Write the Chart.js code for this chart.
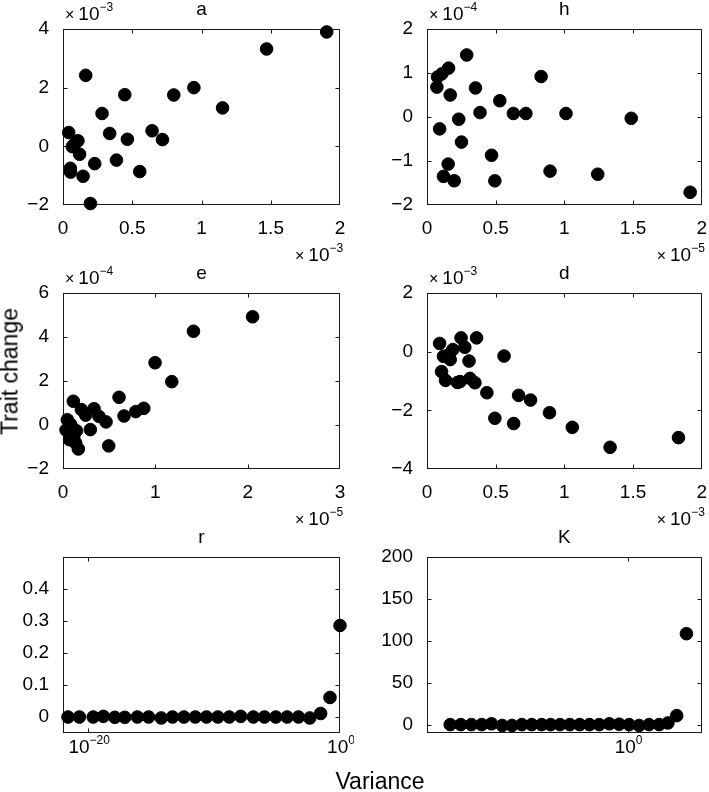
<!DOCTYPE html>
<html>
<head>
<meta charset="utf-8">
<script src="https://cdn.jsdelivr.net/npm/chart.js@4.4.1/dist/chart.umd.min.js"></script>
<style>
  html, body { margin: 0; padding: 0; background: #fff; }
  body { width: 709px; height: 792px; position: relative; overflow: hidden;
         font-family: "Liberation Sans", Arial, sans-serif; }
  canvas { position: absolute; }
  .lbl { position: absolute; font-size: 23px; line-height: 23px; color: #000;
         white-space: nowrap; text-align: center; width: 200px; height: 23px; }
</style>
</head>
<body>
<canvas id="pa" width="354" height="270" style="left:0;top:0"></canvas>
<canvas id="ph" width="355" height="270" style="left:354px;top:0"></canvas>
<canvas id="pe" width="354" height="280" style="left:0;top:250px"></canvas>
<canvas id="pd" width="355" height="280" style="left:354px;top:250px"></canvas>
<canvas id="pr" width="354" height="270" style="left:0;top:500px"></canvas>
<canvas id="pk" width="355" height="270" style="left:354px;top:500px"></canvas>
<div class="lbl" style="left:-90px;top:360px;transform:rotate(-90deg)">Trait change</div>
<div class="lbl" style="left:280px;top:770px">Variance</div>

<script>
// values (mantissas, multiplier shown on the axis)
const aX = [1.904, 1.47, 0.164, 0.945, 0.80, 0.446, 1.152, 0.282, 0.041, 0.337, 0.643, 0.718,
            0.465, 0.108, 0.067, 0.084, 0.12, 0.229, 0.386, 0.554, 0.053, 0.055, 0.145, 0.198]
const aY = [3.90, 3.32, 2.42, 2.00, 1.75, 1.76, 1.31, 1.12, 0.47, 0.44, 0.53, 0.23,
            0.24, 0.19, -0.01, 0.08, -0.27, -0.59, -0.47, -0.86, -0.75, -0.88, -1.02, -1.95]

const hX = [0.289, 0.157, 0.108, 0.077, 0.831, 0.072, 0.353, 0.169, 0.53, 0.386, 0.629, 0.72, 1.012,
            0.231, 1.487, 0.092, 0.251, 0.47, 0.154, 0.12, 0.198, 0.494, 0.896, 1.243, 1.916]
const hY = [1.41, 1.11, 0.98, 0.91, 0.92, 0.68, 0.66, 0.50, 0.37, 0.10, 0.08, 0.08, 0.08,
            -0.05, -0.03, -0.27, -0.57, -0.87, -1.07, -1.35, -1.45, -1.45, -1.23, -1.30, -1.71]

const eX = [2.053, 1.413, 0.997, 1.178, 0.607, 0.112, 0.199, 0.336, 0.246, 0.39, 0.875, 0.788, 0.661,
            0.466, 0.047, 0.083, 0.033, 0.145, 0.296, 0.072, 0.116, 0.137, 0.166, 0.495, 0.09]
const eY = [4.92, 4.26, 2.83, 1.97, 1.26, 1.08, 0.70, 0.74, 0.45, 0.39, 0.76, 0.61, 0.41,
            0.14, 0.24, 0.03, -0.23, -0.26, -0.21, -0.67, -0.55, -0.82, -1.09, -0.95, -0.44]

const dX = [0.092, 0.248, 0.361, 0.275, 0.188, 0.12, 0.157, 0.169, 0.306, 0.561, 0.106, 0.135, 0.222,
            0.241, 0.313, 0.349, 0.436, 0.667, 0.754, 0.892, 0.494, 0.631, 1.058, 1.333, 1.831]
const dY = [0.28, 0.47, 0.47, 0.15, 0.07, -0.16, -0.11, -0.27, -0.32, -0.15, -0.68, -0.98, -1.05,
            -1.02, -0.91, -1.06, -1.40, -1.49, -1.65, -2.08, -2.27, -2.45, -2.58, -3.26, -2.93]

const rX = [2.5e-22, 2e-21, 2.5e-20, 1.6e-19, 1.3e-18, 8e-18, 8e-17, 6.3e-16, 6.3e-15, 5e-14, 4e-13,
            3.2e-12, 2.5e-11, 2e-10, 1.6e-9, 1.3e-8, 1.3e-7, 1e-6, 8e-6, 6.3e-5, 5e-4, 4e-3,
            0.029, 0.16, 1.0]
const rY = [0, 0, 0, 0.002, -0.001, -0.001, 0, 0, -0.003, 0, 0, 0, 0, 0, 0, 0.002, 0, 0, 0, 0, 0,
            -0.003, 0.011, 0.061, 0.286]

const kX = [5.4e-17, 5e-16, 4.7e-15, 4.1e-14, 3.3e-13, 3.2e-12, 2.5e-11, 2e-10, 1.6e-9, 1.3e-8,
            8.7e-8, 6.3e-7, 5e-6, 4e-5, 3.2e-4, 2.5e-3, 0.021, 0.17, 1.4, 11.5, 93, 800, 5000,
            3.2e4, 2.5e5]
const kY = [0, 0, 0, 0, 1, -1, -1, 0, 0, 0, 0, 0, 0, 0, 0, 0, 1, 0.5, 0, -1, 0, 0, 2, 10.7, 108.5]

// ticks
const aXTicks = [0, 0.5, 1, 1.5, 2], aYTicks = [-2, 0, 2, 4]
const hXTicks = [0, 0.5, 1, 1.5, 2], hYTicks = [-2, -1, 0, 1, 2]
const eXTicks = [0, 1, 2, 3], eYTicks = [-2, 0, 2, 4, 6]
const dXTicks = [0, 0.5, 1, 1.5, 2], dYTicks = [-4, -2, 0, 2]
const rXTicks = [1e-20, 1], rXExp = ["\u221220", "0"], rYTicks = [0, 0.1, 0.2, 0.3, 0.4, 0.5]
const kXTicks = [1], kXExp = ["0"], kYTicks = [0, 50, 100, 150, 200]

const FONT = '"Liberation Sans", Arial, sans-serif'
const TICK = 19

function fmt(v) {
  const r = Math.round(v * 1000) / 1000
  return (r < 0 ? "\u2212" : "") + Math.abs(r)
}

// draws [×] 10^exp ; x is left edge, or centre when center = true
function drawPow(ctx, x, y, exp, times, center, baseSize, expSize) {
  const parts = []
  if (times) parts.push({ t: "\u00d7", s: 16, dy: 0, gap: 4 })
  parts.push({ t: "10", s: baseSize, dy: 0, gap: 0 })
  parts.push({ t: exp, s: expSize, dy: -9, gap: 0 })
  let w = 0
  parts.forEach(p => {
    ctx.font = p.s + "px " + FONT
    p.w = ctx.measureText(p.t).width
    w += p.w + p.gap
  })
  let cx = center ? x - w / 2 : x
  ctx.fillStyle = "#000"
  ctx.textAlign = "left"
  ctx.textBaseline = "alphabetic"
  parts.forEach(p => {
    ctx.font = p.s + "px " + FONT
    ctx.fillText(p.t, cx, y + p.dy)
    cx += p.w + p.gap
  })
}

function panel(id, o) {
  const frame = {
    id: "frame",
    beforeDatasetsDraw(chart) {
      const ctx = chart.ctx, a = chart.chartArea
      const L = Math.round(a.left) + 0.5, R = Math.round(a.right) - 0.5
      const T = Math.round(a.top) + 0.5, B = Math.round(a.bottom) - 0.5
      ctx.save()
      ctx.strokeStyle = "#1a1a1a"
      ctx.lineWidth = 1
      ctx.strokeRect(L, T, R - L, B - T)
      ctx.beginPath()
      chart.scales.x.ticks.forEach(t => {
        const px = Math.round(chart.scales.x.getPixelForValue(t.value)) + 0.5
        if (px <= L + 1 || px >= R - 1) return
        ctx.moveTo(px, B); ctx.lineTo(px, B - 4)
        ctx.moveTo(px, T); ctx.lineTo(px, T + 4)
      })
      chart.scales.y.ticks.forEach(t => {
        const py = Math.round(chart.scales.y.getPixelForValue(t.value)) + 0.5
        if (py <= T + 1 || py >= B - 1) return
        ctx.moveTo(L, py); ctx.lineTo(L + 4, py)
        ctx.moveTo(R, py); ctx.lineTo(R - 4, py)
      })
      ctx.stroke()
      ctx.restore()
    },
    afterDraw(chart) {
      const ctx = chart.ctx, a = chart.chartArea
      ctx.save()
      ctx.fillStyle = "#000"
      ctx.font = TICK + "px " + FONT
      ctx.textAlign = "center"
      ctx.textBaseline = "alphabetic"
      ctx.fillText(o.title, (a.left + a.right) / 2, a.top - 14)
      if (o.yMul) drawPow(ctx, a.left + 2, a.top - 9, o.yMul, true, false, 19, 12)
      if (o.xMul) drawPow(ctx, a.right - 45, a.bottom + 56, o.xMul, true, false, 19, 12)
      if (o.xExp) {
        o.xTicks.forEach((v, i) => {
          const px = chart.scales.x.getPixelForValue(v)
          drawPow(ctx, px + 1, a.bottom + 20, o.xExp[i], false, true, 19, 12)
        })
      }
      ctx.restore()
    }
  }

  const pts = o.xs.map((x, i) => ({ x: x, y: o.ys[i] }))

  return new Chart(document.getElementById(id), {
    type: "scatter",
    data: {
      datasets: [{
        data: pts,
        backgroundColor: "#000",
        borderColor: "#000",
        pointRadius: 6.3,
        pointBorderWidth: 1,
        pointHoverRadius: 6.3,
        clip: false
      }]
    },
    options: {
      responsive: false,
      animation: false,
      events: [],
      layout: { padding: { top: o.padTop, right: o.padRight, left: 0, bottom: 0 } },
      plugins: { legend: { display: false }, tooltip: { enabled: false } },
      scales: {
        x: {
          type: o.xLog ? "logarithmic" : "linear",
          min: o.xMin, max: o.xMax,
          bounds: "data",
          grid: { display: false },
          border: { display: false },
          ticks: { display: !o.xLog, color: "#000", font: { size: TICK, family: FONT },
                   padding: 4, autoSkip: false, maxRotation: 0, callback: fmt },
          afterBuildTicks: s => { s.ticks = o.xTicks.map(v => ({ value: v })) },
          afterFit: s => {
            s.height = o.xH
            s.paddingLeft = 0; s.paddingRight = 0; s.paddingTop = 0; s.paddingBottom = 0
          }
        },
        y: {
          type: "linear",
          min: o.yMin, max: o.yMax,
          bounds: "data",
          grid: { display: false },
          border: { display: false },
          ticks: { color: "#000", font: { size: TICK, family: FONT }, padding: 6,
                   autoSkip: false, callback: v => (v > o.yLabelMax + 1e-9 ? "" : fmt(v)) },
          afterBuildTicks: s => { s.ticks = o.yTicks.map(v => ({ value: v })) },
          afterFit: s => {
            s.width = o.yW
            s.paddingLeft = 0; s.paddingRight = 0; s.paddingTop = 0; s.paddingBottom = 0
          }
        }
      }
    },
    plugins: [frame]
  })
}

panel("pa", { title: "a", xs: aX, ys: aY, xMin: 0, xMax: 2, yMin: -2, yMax: 4,
  xTicks: aXTicks, yTicks: aYTicks, yLabelMax: 4, yMul: "\u22123", xMul: "\u22123",
  padTop: 29, padRight: 14, yW: 63, xH: 65 })
panel("ph", { title: "h", xs: hX, ys: hY, xMin: 0, xMax: 2, yMin: -2, yMax: 2,
  xTicks: hXTicks, yTicks: hYTicks, yLabelMax: 2, yMul: "\u22124", xMul: "\u22125",
  padTop: 29, padRight: 5, yW: 73, xH: 65 })
panel("pe", { title: "e", xs: eX, ys: eY, xMin: 0, xMax: 3, yMin: -2, yMax: 6,
  xTicks: eXTicks, yTicks: eYTicks, yLabelMax: 6, yMul: "\u22124", xMul: "\u22125",
  padTop: 43, padRight: 14, yW: 63, xH: 61 })
panel("pd", { title: "d", xs: dX, ys: dY, xMin: 0, xMax: 2, yMin: -4, yMax: 2,
  xTicks: dXTicks, yTicks: dYTicks, yLabelMax: 2, yMul: "\u22123", xMul: "\u22123",
  padTop: 43, padRight: 5, yW: 73, xH: 61 })
panel("pr", { title: "r", xs: rX, ys: rY, xLog: true, xMin: 1e-22, xMax: 1, yMin: -0.05, yMax: 0.5,
  xTicks: rXTicks, xExp: rXExp, yTicks: rYTicks, yLabelMax: 0.4,
  padTop: 57, padRight: 14, yW: 63, xH: 37 })
panel("pk", { title: "K", xs: kX, ys: kY, xLog: true, xMin: 4e-19, xMax: 6.3e6, yMin: -10, yMax: 200,
  xTicks: kXTicks, xExp: kXExp, yTicks: kYTicks, yLabelMax: 200,
  padTop: 57, padRight: 5, yW: 73, xH: 37 })
</script>
</body>
</html>
